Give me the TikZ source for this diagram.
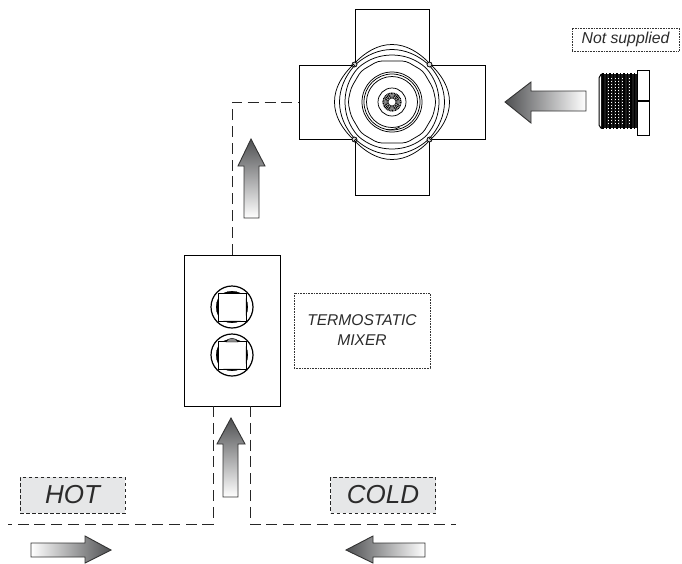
\documentclass[tikz,border=0pt]{standalone}
\usepackage{fontspec}
\setmainfont{Liberation Sans}
\definecolor{arrowdark}{HTML}{4F5052}
\definecolor{labelfill}{HTML}{E6E7E8}
\definecolor{inktext}{HTML}{2B2B2B}
\tikzset{
  x=1pt,y=-1pt,
  outline/.style={draw=black,line width=1pt},
  thinline/.style={draw=black,line width=0.75pt},
  pipe/.style={draw=black!85,line width=0.85pt,dash pattern=on 11pt off 5.8pt},
  flowR/.style={draw=black!80,line width=0.9pt,left color=white,right color=arrowdark},
  flowL/.style={draw=black!80,line width=0.9pt,left color=arrowdark,right color=white},
  flowU/.style={draw=black!80,line width=0.9pt,bottom color=white,top color=arrowdark},
  noteA/.style={draw=black!80,line width=0.6pt,densely dotted,inner sep=0pt,align=center,text=inktext,font=\itshape},
  tagbox/.style={draw=black!85,fill=labelfill,line width=0.9pt,dash pattern=on 3.5pt off 2.5pt,inner sep=0pt,minimum width=105pt,minimum height=36pt,text=inktext,font=\fontsize{26}{28}\selectfont\itshape},
  lens/.style={fill=black,draw=black,line width=0.2pt}
}
\newcommand{\knob}[1]{%
  \begin{scope}[shift={#1}]
    \draw[outline,line width=1.2pt] (0,0) circle (21);
    \draw[outline,line width=0.9pt] (-14,-14) rectangle (14,14);
    \foreach \r in {0,90,180,270}{
      \filldraw[lens,rotate=\r] (-8,-14) .. controls (-3,-16.5) and (3,-16.5) .. (8,-14) -- cycle;
    }
  \end{scope}}
\begin{document}
\begin{tikzpicture}
\useasboundingbox (0,0) rectangle (682,563);
% valve body
\coordinate (vc) at (392,102);
\coordinate (vwest) at (299,102);
\draw[outline] (355,65) -- (355,9) -- (429,9) -- (429,65);
\draw[outline] (355,65) -- (299,65) -- (299,139) -- (355,139);
\draw[outline] (429,65) -- (485,65) -- (485,139) -- (429,139);
\draw[outline] (355,139) -- (355,195) -- (429,195) -- (429,139);
\begin{scope}[shift={(vc)}]
  \fill[white] (0,0) circle (52);
  \foreach \r in {0,90,180,270}{
    \begin{scope}[rotate=\r]
      \draw[thinline] (-38,-38) .. controls (-27,-50) and (-14,-57.5) .. (0,-57.5) .. controls (14,-57.5) and (27,-50) .. (38,-38);
      \draw[thinline] (-37,-37) .. controls (-26,-47) and (-13,-52.5) .. (0,-52.5) .. controls (13,-52.5) and (26,-47) .. (37,-37);
      \draw[thinline] (-34,-34) .. controls (-24,-43) and (-12,-47) .. (0,-47) .. controls (12,-47) and (24,-43) .. (34,-34);
    \end{scope}
    \draw[thinline,rotate=\r,fill=black!15] (-37.5,-37.5) circle (2.5);
  }
  \draw[thinline,rounded corners=4pt,fill=white] (-14,-41) -- (14,-41) -- (31,-31) -- (41,-14) -- (44,0) -- (41,14) -- (31,31) -- (14,41) -- (-14,41) -- (-31,31) -- (-41,14) -- (-44,0) -- (-41,-14) -- (-31,-31) -- cycle;
  \draw[thinline] (0,0) circle (30);
  \draw[thinline] (0,0) circle (28);
  \draw[thinline] (0,0) circle (25.5);
  \draw[thinline] (-6,27.5) arc (100:60:20);
  \draw[thinline] (0,0) circle (14);
  \draw[thinline,dash pattern=on 1pt off 0.6pt,line width=1.6pt] (0,0) circle (8.8);
  \draw[thinline] (0,0) circle (7.2);
  \draw[line width=0.6pt] (0,0) circle (6);
  \draw[line width=0.6pt] (0,0) circle (5);
  \draw[line width=0.6pt] (0,0) circle (4);
  \fill[white] (0,0) ellipse (3 and 1.6);
\end{scope}
% plug
\fill[black!90] (601,74) rectangle (637,128);
\foreach \yy in {78,81,...,125}{\draw[white,line width=0.3pt,dotted] (606,\yy) -- (633,\yy);}
\foreach \xx in {603,606.5,...,636}{\draw[black,line width=1.5pt] (\xx,73) -- (\xx,129);}
\draw[outline,rounded corners=2pt] (602,74) -- (599,76) -- (599,127) -- (602,128.5);
\draw[outline,fill=white] (637,70) -- (649,70) -- (649,135) -- (637,135) -- cycle;
\fill[black] (637,100) rectangle (649,102);
% labels
\node[noteA,minimum width=107pt,minimum height=23pt,font=\fontsize{15.8}{18}\selectfont\itshape] (nosup) at (625.5,39.5) {Not supplied};
\node[noteA,minimum width=136pt,minimum height=75pt,font=\fontsize{15.6}{20}\selectfont\itshape] (termo) at (362,330.5) {TERMOSTATIC\\MIXER};
% mixer
\node[draw=black,line width=0.8pt,minimum width=96pt,minimum height=151pt,inner sep=0pt] (mixer) at (232.3,330.5) {};
\knob{(232,307)}
\knob{(232,355)}
\filldraw[fill=black!45,draw=black,line width=0.4pt] (226,342) .. controls (228,337) and (236,337) .. (238,342) -- cycle;
% pipes
\draw[pipe] (mixer.north) |- (vwest);
\coordinate (hotfree) at (8,524);
\coordinate (coldfree) at (456,524);
\coordinate (hotup) at (213,406);
\coordinate (coldup) at (250,406);
\draw[pipe] (hotup) -- (213,524) -- (hotfree);
\draw[pipe] (coldup) -- (250,524) -- (coldfree);
% tags
\node[tagbox] (hot) at (72.5,495) {HOT};
\node[tagbox] (cold) at (383,495) {COLD};
% flow arrows
\path[flowL] (505,102) -- (531,82) -- (531,91) -- (586,91) -- (586,111) -- (531,111) -- (531,123) -- cycle;
\path[flowU] (251,139) -- (265,166) -- (259,166) -- (259,218) -- (244,218) -- (244,166) -- (238,166) -- cycle;
\path[flowU] (231,418) -- (245,444) -- (238,444) -- (238,497) -- (223,497) -- (223,444) -- (217,444) -- cycle;
\path[flowR] (111,550) -- (85,536) -- (85,543) -- (31,543) -- (31,557) -- (85,557) -- (85,563) -- cycle;
\path[flowL] (346,550) -- (373,536) -- (373,543) -- (425,543) -- (425,557) -- (373,557) -- (373,563) -- cycle;
\end{tikzpicture}
\end{document}
